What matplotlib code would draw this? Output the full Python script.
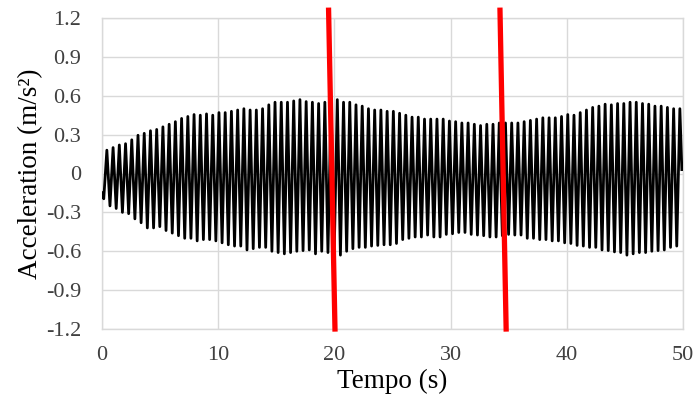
import matplotlib.pyplot as plt
import numpy as np

# Peak values (one per cycle), in time order
upper = [0.18, 0.20, 0.22, 0.23, 0.26, 0.295, 0.31, 0.33, 0.34, 0.36, 0.38, 0.40, 0.425, 0.44, 0.455,
         0.45, 0.46, 0.45, 0.47, 0.47, 0.48, 0.49, 0.50, 0.49, 0.49, 0.50, 0.53, 0.55, 0.55, 0.55, 0.56,
         0.57, 0.555, 0.55, 0.54, 0.55, 0.56, 0.57, 0.55, 0.55, 0.53, 0.52, 0.50, 0.49, 0.49, 0.48,
         0.48, 0.465, 0.45, 0.435, 0.435, 0.42, 0.42, 0.42, 0.42, 0.405, 0.40, 0.39, 0.39, 0.38, 0.37,
         0.38, 0.38, 0.39, 0.39, 0.39, 0.39, 0.40, 0.41, 0.42, 0.43, 0.43, 0.43, 0.44, 0.455, 0.45, 0.47,
         0.49, 0.51, 0.52, 0.535, 0.53, 0.54, 0.54, 0.55, 0.55, 0.54, 0.535, 0.52, 0.52, 0.51, 0.50, 0.50]
lower = [-0.195, -0.25, -0.27, -0.30, -0.31, -0.35, -0.38, -0.42, -0.42, -0.41, -0.44, -0.46, -0.48, -0.50, -0.50, -0.52,
         -0.51, -0.51, -0.52, -0.535, -0.55, -0.56, -0.56, -0.59, -0.58, -0.57, -0.57, -0.60, -0.61, -0.62, -0.61,
         -0.60, -0.595, -0.59, -0.62, -0.60, -0.61, -0.62, -0.63, -0.60, -0.58, -0.57, -0.57, -0.56, -0.555, -0.55,
         -0.55, -0.54, -0.51, -0.50, -0.49, -0.49, -0.475, -0.49, -0.49, -0.47, -0.465, -0.455, -0.455, -0.47, -0.475,
         -0.48, -0.49, -0.49, -0.48, -0.47, -0.475, -0.475, -0.50, -0.50, -0.51, -0.51, -0.52, -0.52, -0.535, -0.54, -0.555,
         -0.56, -0.57, -0.57, -0.59, -0.595, -0.605, -0.61, -0.63, -0.62, -0.61, -0.61, -0.60, -0.595, -0.59, -0.57, -0.56]

t_first = 0.15      # time of first trough (s)
half_period = 0.268  # trough -> peak spacing (s)
start_point = (0.0, -0.15)
end_point = (49.9, 0.03)

# red marker lines (x at top, x at bottom)
red1_x = [19.5, 20.05]
red2_x = [34.25, 34.78]
red_y = [1.26, -1.2]

x_ticks = [0, 10, 20, 30, 40, 50]
y_ticks = [-1.2, -0.9, -0.6, -0.3, 0, 0.3, 0.6, 0.9, 1.2]
y_ticklabels = ['-1.2', '-0.9', '-0.6', '-0.3', '0', '0.3', '0.6', '0.9', '1.2']

# build zigzag signal
n = len(upper) + len(lower)
acc = np.empty(n)
acc[0::2] = lower
acc[1::2] = upper
t = t_first + half_period * np.arange(n)
t = np.concatenate([[start_point[0]], t, [end_point[0]]])
acc = np.concatenate([[start_point[1]], acc, [end_point[1]]])

plt.rcParams['font.family'] = ['Liberation Serif', 'DejaVu Serif']

fig = plt.figure(figsize=(6.98, 4.05), dpi=100)
ax = fig.add_axes([102 / 698, 1 - 329 / 405, 581 / 698, 311 / 405])

ax.plot(t, acc, color='black', linewidth=2.0, solid_joinstyle='round', zorder=3)
ax.plot(red1_x, red_y, color='#ff0000', linewidth=3.8, clip_on=False, zorder=4)
ax.plot(red2_x, red_y, color='#ff0000', linewidth=3.8, clip_on=False, zorder=4)

ax.set_xlim(0, 50)
ax.set_ylim(-1.2, 1.2)
ax.set_xticks(x_ticks)
ax.set_yticks(y_ticks)
ax.set_yticklabels(y_ticklabels)
ax.grid(True, color='#d9d9d9', linewidth=1.0, zorder=0)
ax.set_axisbelow(True)
for s in ax.spines.values():
    s.set_color('#d9d9d9')
    s.set_linewidth(1.0)

ax.tick_params(axis='both', length=0, labelsize=16, colors='#404040')
ax.tick_params(axis='y', pad=15)
ax.tick_params(axis='x', pad=12)

ax.set_xlabel('Tempo (s)', fontsize=19.5, color='black', labelpad=3)
ax.set_ylabel('Acceleration (m/s²)', fontsize=19.5, color='black', labelpad=2)

plt.savefig('out.png', dpi=100)
